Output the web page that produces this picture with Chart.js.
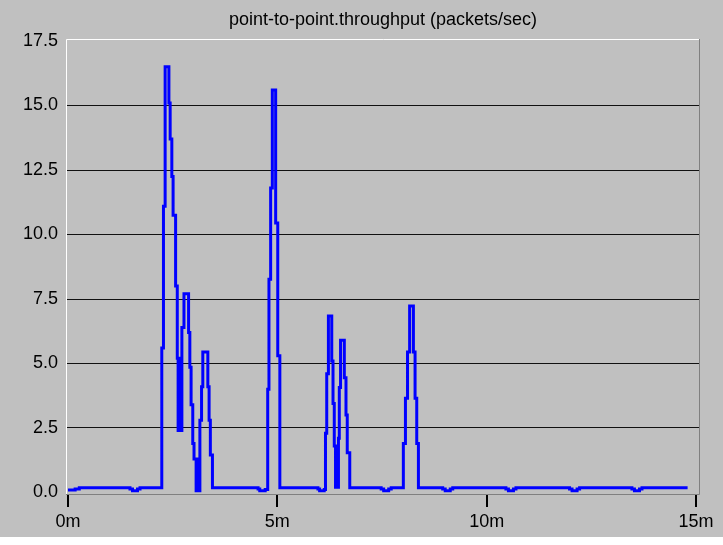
<!DOCTYPE html>
<html>
<head>
<meta charset="utf-8">
<script src="https://cdn.jsdelivr.net/npm/chart.js@4.4.0/dist/chart.umd.min.js"></script>
<style>
  html, body { margin: 0; padding: 0; background: #ffffff; }
  #wrap { position: absolute; left: 0; top: 0; width: 723px; height: 545px; }
  canvas { display: block; }
</style>
</head>
<body>
<div id="wrap"><canvas id="chart" width="723" height="545"></canvas></div>
<script>
// --- Data (time in minutes, throughput in packets/sec) ---
const times = [
    0.00, 0.17, 0.27,
    1.48, 1.54, 1.66, 1.72,
    2.24, 2.28, 2.32, 2.41, 2.44, 2.48, 2.51, 2.57, 2.61, 2.63, 2.66, 2.68, 2.72, 2.77,
    2.88, 2.91, 2.94, 2.98, 3.01, 3.06, 3.09, 3.11, 3.15, 3.19, 3.22, 3.34, 3.37, 3.40, 3.45,
    4.54, 4.58, 4.71,
    4.77, 4.80, 4.84, 4.88, 4.96, 5.01, 5.06,
    5.97, 6.01, 6.12,
    6.15, 6.18, 6.22, 6.30, 6.33, 6.36, 6.39, 6.41, 6.44, 6.46, 6.48, 6.51, 6.60, 6.64, 6.67, 6.73,
    7.48, 7.54, 7.66, 7.72,
    8.01, 8.06, 8.11, 8.16, 8.25, 8.29, 8.33, 8.37,
    8.95, 9.01, 9.13, 9.19,
    10.46, 10.52, 10.64, 10.70,
    11.98, 12.04, 12.16, 12.22,
    13.47, 13.53, 13.65, 13.71,
    14.80
];
const values = [
    0.10, 0.14, 0.18,
    0.14, 0.07, 0.14, 0.18,
    5.6, 11.1, 16.5, 15.1, 13.7, 12.25, 10.75, 8.0, 5.2, 2.4, 5.2, 2.4, 6.4, 7.7,
    6.2, 4.85, 3.4, 1.9, 1.3, 0.07, 1.3, 0.07, 2.8, 4.1, 5.45, 4.1, 2.8, 1.45, 0.18,
    0.14, 0.07, 0.12,
    4.0, 8.27, 11.8, 15.6, 10.45, 5.3, 0.18,
    0.14, 0.07, 0.12,
    2.3, 4.6, 6.84, 5.1, 3.45, 1.8, 0.2, 1.8, 0.2, 2.1, 4.07, 5.9, 4.45, 3.0, 1.54, 0.18,
    0.14, 0.07, 0.14, 0.18,
    1.9, 3.65, 5.45, 7.23, 5.45, 3.65, 1.9, 0.18,
    0.14, 0.07, 0.14, 0.18,
    0.14, 0.07, 0.14, 0.18,
    0.14, 0.07, 0.14, 0.18,
    0.14, 0.07, 0.14, 0.18,
    0.18
];
const yTicks = [0, 2.5, 5, 7.5, 10, 12.5, 15, 17.5];
const xTicks = [0, 5, 10, 15];
const chartTitle = 'point-to-point.throughput (packets/sec)';

const FONT = '"Liberation Sans", Arial, sans-serif';
const GRAY = '#c0c0c0';

// panel background + 3d frame round the plot
const framePlugin = {
    id: 'frame',
    beforeDraw(chart) {
        const ctx = chart.ctx;
        ctx.save();
        ctx.fillStyle = '#ffffff';
        ctx.fillRect(0, 0, chart.width, chart.height);
        ctx.fillStyle = GRAY;
        ctx.fillRect(0, 0, chart.width, 537);
        ctx.restore();
    },
    afterDatasetsDraw(chart) {
        const a = chart.chartArea;
        const ctx = chart.ctx;
        ctx.save();
        ctx.lineWidth = 1;
        ctx.strokeStyle = '#ffffff';
        ctx.beginPath();
        ctx.moveTo(a.left + 0.5, a.bottom);
        ctx.lineTo(a.left + 0.5, a.top + 0.5);
        ctx.lineTo(a.right, a.top + 0.5);
        ctx.stroke();
        ctx.strokeStyle = '#808080';
        ctx.beginPath();
        ctx.moveTo(a.right - 0.5, a.top);
        ctx.lineTo(a.right - 0.5, a.bottom - 0.5);
        ctx.lineTo(a.left, a.bottom - 0.5);
        ctx.stroke();
        ctx.restore();
    }
};

new Chart(document.getElementById('chart'), {
    type: 'line',
    data: {
        datasets: [{
            data: times.map((t, i) => ({ x: t, y: values[i] })),
            borderColor: '#0000ff',
            borderWidth: 3,
            stepped: true,
            pointRadius: 0,
            fill: false,
            borderJoinStyle: 'miter',
            borderCapStyle: 'butt'
        }]
    },
    options: {
        responsive: false,
        animation: false,
        layout: { padding: { left: 0, right: 23, top: 0, bottom: 0 } },
        plugins: {
            legend: { display: false },
            tooltip: { enabled: false },
            title: {
                display: true,
                fullSize: false,
                text: chartTitle,
                color: '#000000',
                font: { family: FONT, size: 18, weight: 'normal' },
                padding: { top: 9, bottom: 8.4 }
            }
        },
        scales: {
            x: {
                type: 'linear',
                min: -0.048,
                max: 15.096,
                afterBuildTicks: s => { s.ticks = xTicks.map(v => ({ value: v })); },
                afterFit: s => { s.height = 50; },
                border: { display: false },
                grid: {
                    drawOnChartArea: false,
                    drawTicks: true,
                    tickLength: 12,
                    color: '#000000',
                    lineWidth: 2
                },
                ticks: {
                    color: '#000000',
                    font: { family: FONT, size: 18 },
                    padding: 4,
                    maxRotation: 0,
                    callback: v => v + 'm'
                }
            },
            y: {
                min: -0.097,
                max: 17.578,
                afterBuildTicks: s => { s.ticks = yTicks.map(v => ({ value: v })); },
                afterFit: s => { s.width = 66; },
                border: { display: false },
                grid: {
                    drawTicks: false,
                    lineWidth: 1,
                    color: c => (c.tick && (c.tick.value === 0 || c.tick.value === 17.5)) ? 'rgba(0,0,0,0)' : '#111111'
                },
                ticks: {
                    color: '#000000',
                    font: { family: FONT, size: 18 },
                    padding: 8,
                    callback: v => v.toFixed(1)
                }
            }
        }
    },
    plugins: [framePlugin]
});
</script>
</body>
</html>
